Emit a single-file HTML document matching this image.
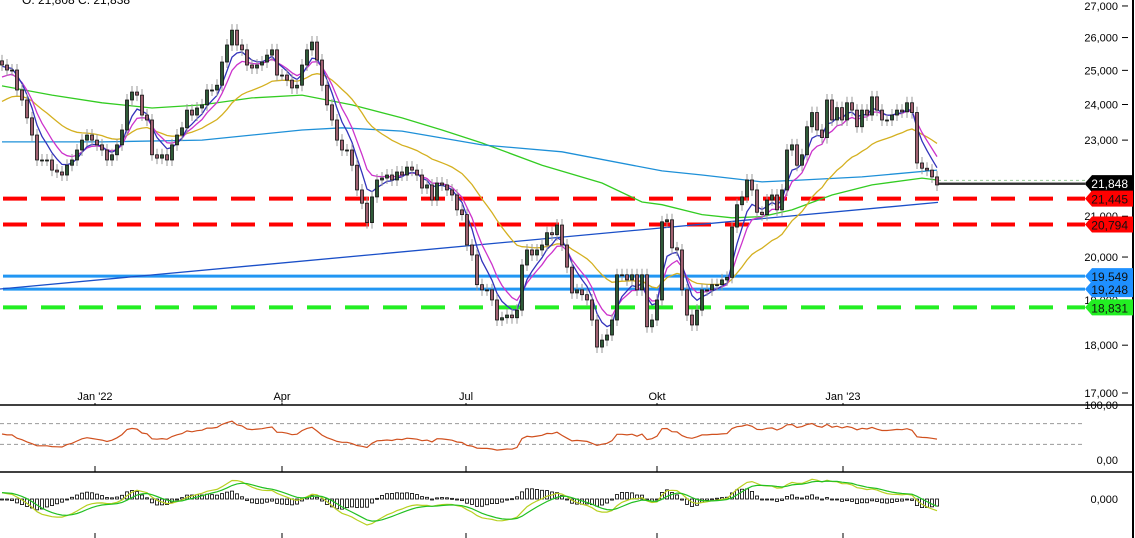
<!DOCTYPE html>
<html><head><meta charset="utf-8"><style>
html,body{margin:0;padding:0;background:#fff;overflow:hidden}
svg{display:block;font-family:"Liberation Sans",sans-serif}
</style></head><body>
<svg id="chart" width="1135" height="538" viewBox="0 0 1135 538" xmlns="http://www.w3.org/2000/svg">
<rect width="1135" height="538" fill="#fff"/>
<text x="22" y="4" font-size="12" fill="#000">O: 21,808  C: 21,838</text>
<g id="levels"></g>
<g id="mas"></g>
<g id="candles"></g>
<g id="axes"></g>
<g id="rsi"></g>
<g id="macd"></g>
<g id="labels"></g>
</svg>
<script>
const closes=[25160,25010,25010,24420,24130,23620,23140,22460,22460,22460,22190,22140,22060,22320,22460,22730,23000,23140,23000,22870,22730,22460,22600,22870,23280,24130,24360,24270,23700,23560,22600,22510,22600,22460,22870,23140,23340,23840,23700,23900,23990,24420,24420,24560,25250,25770,26230,25770,25620,25160,25070,25160,25250,25460,25620,24860,24860,24710,24480,24560,25160,25620,25860,25310,24560,23990,23560,23000,22730,22730,22320,21670,21330,20840,21490,21930,21980,22060,21930,22140,22060,22270,22190,22060,21720,21800,21410,21850,21800,21670,21540,21160,21040,20290,20050,19350,19230,19230,19000,18550,18600,18660,18600,18770,19810,20170,20050,20170,20290,20590,20540,20780,20290,19760,19160,19230,19120,19000,18550,17960,18110,18220,18550,19580,19580,19460,19580,19230,19580,18400,18550,19000,20860,20910,20220,20170,19230,18660,18440,18770,19230,19230,19350,19350,19460,19520,20730,21290,21490,21930,21670,21100,21040,21410,21540,21160,21670,22730,22870,22320,22600,23370,23770,23280,23070,24130,23560,23910,23560,24050,23840,23370,23840,23700,24220,23840,23560,23560,23700,23840,23790,24050,23770,22380,22240,22190,22010,21800];
const greenIdx=[0,10,20,30,40,50,60,70,80,88,96,108,120,128,132,140,146,152,158,166,174,184,187];
const greenVal=[24540,24270,24050,23900,23990,24190,24270,23990,23620,23280,22920,22320,21850,21360,21290,21040,20960,20990,21160,21540,21800,21980,21930];
const blueIdx=[0,20,40,60,68,80,96,112,132,140,152,160,172,187];
const blueVal=[22950,22950,23000,23280,23340,23250,22870,22680,22170,22060,21880,21930,22010,22190];
const trendVal=[19250,21350];
const levelVals=[21445,20794,19549,19248,18831];
const levelLabels=["21,445","20,794","19,549","19,248","18,831"];
const priceTicks=[27000,26000,25000,24000,23000,21000,20000,19000,18000,17000];
const priceTickLabels=["27,000","26,000","25,000","24,000","23,000","21,000","20,000","19,000","18,000","17,000"];
const monthLabels=["Jan '22","Apr","Jul","Okt","Jan '23"];
const monthIdx=[18.6,56,92.8,131,168.2];

const NS="http://www.w3.org/2000/svg";
function mk(tag,attrs,parent){const e=document.createElementNS(NS,tag);for(const k in attrs)e.setAttribute(k,attrs[k]);parent.appendChild(e);return e;}
const yP=p=>393-836.6*Math.log(p/17000);
const xC=i=>2+i*5;
const yR=v=>460-v*0.52;
const g=id=>document.getElementById(id);

const lv=g('levels');
const lvStyle=[["#ff0000",4,"24 14"],["#ff0000",4,"24 14"],["#2196f3",3,""],["#2196f3",3,""],["#22ee22",4,"24 14"]];
levelVals.forEach((v,k)=>{const l=mk('line',{x1:3,x2:1085,y1:yP(v),y2:yP(v),stroke:lvStyle[k][0],'stroke-width':lvStyle[k][1],'stroke-dasharray':lvStyle[k][2]},lv);

});
[[21920,"#9c9","3 3"],[21848,"#000",""],[21818,"#000",""]].forEach((a,k)=>{const l=mk('line',{x1:938,x2:1085,y1:yP(a[0]),y2:yP(a[0]),stroke:a[1],'stroke-width':1,'stroke-dasharray':a[2]},lv);

});

const ma=g('mas');
function pathFrom(idx,vals){return idx.map((i,k)=>(k?'L':'M')+xC(i).toFixed(1)+' '+yP(vals[k]).toFixed(1)).join(' ');}
function ema(arr,n,seed){const a=2/(n+1);let e=seed;return arr.map(v=>e=e+a*(v-e));}
const tl=mk('line',{x1:0,y1:yP(trendVal[0]),x2:938,y2:yP(trendVal[1]),stroke:"#1a4fc8",'stroke-width':1.3},ma);


const gp=mk('path',{d:pathFrom(greenIdx,greenVal),fill:'none',stroke:'#33cc22','stroke-width':1.3},ma);


const bp=mk('path',{d:pathFrom(blueIdx,blueVal),fill:'none',stroke:'#1e90d8','stroke-width':1.3},ma);


const allIdx=closes.map((c,i)=>i);
[[25,24000,'#d4b020','ma-yellow'],[8,24700,'#cc33cc','ma-magenta'],[5,25100,'#3333bb','ma-purple']].forEach(s=>{
const v=ema(closes,s[0],s[1]);const p=mk('path',{d:pathFrom(allIdx,v),fill:'none',stroke:s[2],'stroke-width':1.3},ma);

});

const cg=g('candles');
closes.forEach((c,i)=>{const o=i?closes[i-1]:c*1.005;const x=xC(i);
const yt=Math.min(yP(o),yP(c)),yb=Math.max(yP(o),yP(c));
const w=mk('line',{x1:x,x2:x,y1:yt-6,y2:yb+6,stroke:'#999','stroke-width':1},cg);


const r=mk('rect',{x:x-1.5,y:yt,width:3,height:Math.max(1,yb-yt),fill:c>=o?'#2f5a38':'#a06070',stroke:'#111','stroke-width':0.8},cg);

});

const ax=g('axes');
[405,472].forEach(y=>{const l=mk('line',{x1:0,x2:1133,y1:y,y2:y,stroke:'#000','stroke-width':1.5},ax);

});
const va=mk('line',{x1:1133,x2:1133,y1:0,y2:538,stroke:'#000','stroke-width':2},ax);


priceTicks.forEach((p,k)=>{const y=yP(p);
const t=mk('text',{x:1118,y:y+4,'font-size':11,'text-anchor':'end',fill:'#000'},ax);t.textContent=priceTickLabels[k];


const tk=mk('line',{x1:1122,x2:1128,y1:y,y2:y,stroke:'#000'},ax);

});
monthLabels.forEach((m,k)=>{const x=xC(monthIdx[k]);
const t=mk('text',{x:x,y:400,'font-size':11,'text-anchor':'middle',fill:'#000'},ax);t.textContent=m;


[[403,405],[466,472],[533,538]].forEach(a=>{const l=mk('line',{x1:x,x2:x,y1:a[0],y2:a[1],stroke:'#000'},ax);

});});

const rg=g('rsi');
[70,30].forEach(v=>{const l=mk('line',{x1:0,x2:1085,y1:yR(v),y2:yR(v),stroke:'#999','stroke-dasharray':'4 3'},rg);

});
[["100,00",409],["0,00",464]].forEach(a=>{const t=mk('text',{x:1118,y:a[1],'font-size':11,'text-anchor':'end'},rg);t.textContent=a[0];

});
const n=16;let ag=150,al=150;const rsi=[];
closes.forEach((c,i)=>{const d=i?c-closes[i-1]:0;ag=(ag*(n-1)+Math.max(d,0))/n;al=(al*(n-1)+Math.max(-d,0))/n;rsi.push(100*ag/(ag+al));});
const rp=mk('path',{d:rsi.map((v,i)=>(i?'L':'M')+xC(i)+' '+yR(v).toFixed(1)).join(' '),fill:'none',stroke:'#d0501e','stroke-width':1.2},rg);



const mg=g('macd');
const e1=ema(closes,7,closes[0]*0.995),e2=ema(closes,15,closes[0]*0.985);
const macd=e1.map((v,i)=>v-e2[i]);const sig=ema(macd,5,macd[0]);
const mx=Math.max(...macd.map(Math.abs));const sc=26/mx;const yM=v=>499-v*sc;
const t0=mk('text',{x:1118,y:503,'font-size':11,'text-anchor':'end'},mg);t0.textContent="0,000";


macd.forEach((v,i)=>{const h=(v-sig[i])*sc*1.6;const r=mk('rect',{x:xC(i)-1.5,y:Math.min(499,499-h),width:3,height:Math.max(1,Math.abs(h)),fill:'#fff',stroke:'#000','stroke-width':0.8},mg);

});
const mp=mk('path',{d:macd.map((v,i)=>(i?'L':'M')+xC(i)+' '+yM(v).toFixed(1)).join(' '),fill:'none',stroke:'#b8d020','stroke-width':1.2},mg);


const sp=mk('path',{d:sig.map((v,i)=>(i?'L':'M')+xC(i)+' '+yM(v).toFixed(1)).join(' '),fill:'none',stroke:'#22c022','stroke-width':1.2},mg);



const lb=g('labels');
function tag(y,fill,txt,col){const p=mk('path',{d:`M1085 ${y} L1092 ${y-8} L1133 ${y-8} L1133 ${y+8} L1092 ${y+8} Z`,fill:fill},lb);


const t=mk('text',{x:1128,y:y+5,'font-size':12,'text-anchor':'end',fill:col},lb);t.textContent=txt;

}
tag(yP(21818),'#000','21,818','#fff');
tag(yP(21848),'#000','21,848','#fff');
const tagFill=['#ff0000','#ff0000','#1e90ff','#1e90ff','#22ee22'];
levelVals.forEach((v,k)=>tag(yP(v),tagFill[k],levelLabels[k],'#111'));
</script>
</body></html>
